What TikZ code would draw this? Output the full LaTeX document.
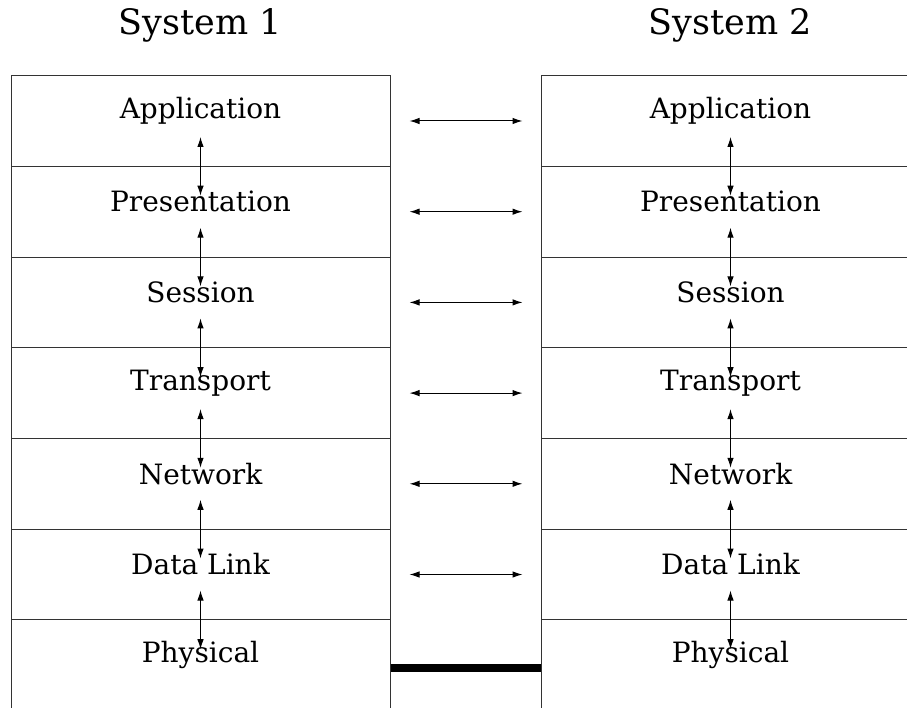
\documentclass[tikz,border=0pt]{standalone}
\usepackage{fontspec}
\setmainfont{DejaVu Serif}
\usetikzlibrary{positioning,arrows.meta}

\begin{document}
\begin{tikzpicture}[x=1pt,y=-1pt,
    layer/.style={draw=black!80,line width=1pt,minimum width=379pt,minimum height=90.7pt,inner sep=0pt},
    lname/.style={font=\fontsize{28}{33}\selectfont},
    sysname/.style={font=\fontsize{35}{42}\selectfont},
    peer/.style={{Latex[length=10pt,width=6.5pt]}-{Latex[length=10pt,width=6.5pt]},line width=1pt}]
    % fixed page size, right and bottom edges run off it
    \clip (0,0) rectangle (907,708);

    % the two stacks of layers
    \foreach \name [count=\i] in {Application,Presentation,Session,Transport,Network,Data Link,Physical} {
        \node[layer] (L\i) at (200.5,{121+90.7*(\i-1)}) {};
        \node[layer,right=150pt of L\i] (R\i) {};
        \node[lname] (tL\i) at ([yshift=10pt]L\i.center) {\name};
        \node[lname] (tR\i) at ([yshift=10pt]R\i.center) {\name};
    }

    % titles
    \node[sysname] (sys1) at (200.5,25) {System 1};
    \node[sysname] (sys2) at (730.5,25) {System 2};

    % arrows inside each system
    \foreach \i [evaluate=\i as \j using int(\i+1)] in {1,...,6} {
        \draw[peer] ([yshift=-16pt]L\i.center) -- ([yshift=16pt]L\j.center);
        \draw[peer] ([yshift=-16pt]R\i.center) -- ([yshift=16pt]R\j.center);
    }

    % peer to peer arrows
    \foreach \i in {1,...,6}
        \draw[peer] ([xshift=19pt]L\i.east) -- ([xshift=-18pt]R\i.west);

    % the wire
    \draw[line width=8pt] ([yshift=-3pt]L7.east) -- ([yshift=-3pt]R7.west);
\end{tikzpicture}
\end{document}
